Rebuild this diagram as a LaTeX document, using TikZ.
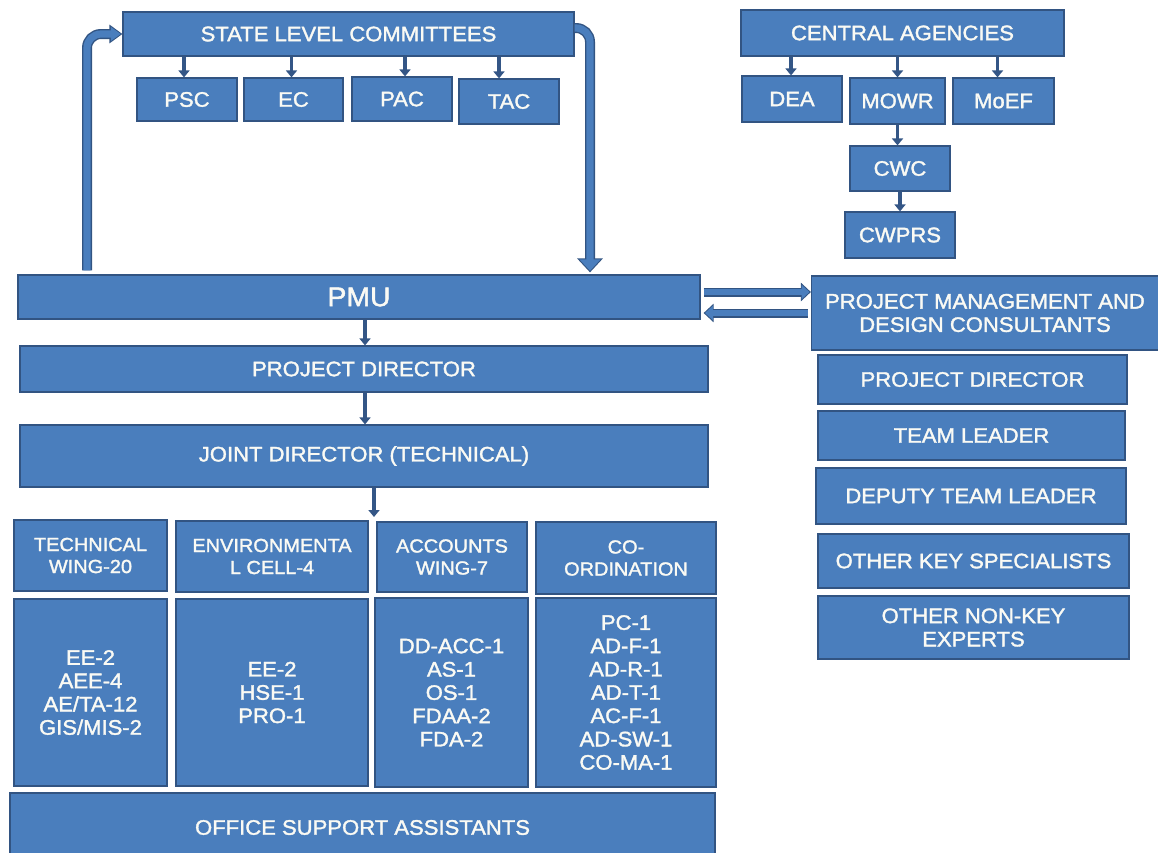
\documentclass[tikz,border=0pt]{standalone}
\usepackage{fontspec}
\setmainfont{Liberation Sans}[FakeStretch=1.05,FakeBold=1.6]
\usetikzlibrary{arrows.meta}
\definecolor{boxfill}{RGB}{74,126,189}
\definecolor{boxline}{RGB}{50,84,130}
\definecolor{arrowdark}{RGB}{52,86,134}
\definecolor{txt}{RGB}{250,250,244}
\begin{document}
\begin{tikzpicture}[x=1pt,y=-1pt,
  box/.style={draw=boxline, line width=1.2pt, fill=boxfill, text=txt, align=center,
    inner sep=0pt, font=\fontsize{21}{23.3}\selectfont},
  wing/.style={box, font=\fontsize{19}{22}\selectfont},
  sarrow/.style={draw=arrowdark, line width=3.4pt, -{Triangle[width=11pt,length=7pt]}},
  bigout/.style={draw=boxline, line width=10pt, rounded corners=14pt},
  bigin/.style={draw=boxfill, line width=7.2pt, rounded corners=14pt},
]
\useasboundingbox (0,0) rectangle (1158,852);

% state level committees
\node[box, minimum width=451, minimum height=44] (slc) at (348.5,34) {STATE LEVEL COMMITTEES};
\node[box, minimum width=100, minimum height=43] (psc) at (187,99.5) {PSC};
\node[box, minimum width=99,  minimum height=43] (ec)  at (293.5,99.5) {EC};
\node[box, minimum width=100, minimum height=44] (pac) at (402,99) {PAC};
\node[box, minimum width=100, minimum height=45] (tac) at (509,101.5) {TAC};

% central agencies
\node[box, minimum width=323, minimum height=46] (ca)   at (902.5,33) {CENTRAL AGENCIES};
\node[box, minimum width=100, minimum height=46] (dea)  at (792,99) {DEA};
\node[box, minimum width=95,  minimum height=46] (mowr) at (897.5,101) {MOWR};
\node[box, minimum width=101, minimum height=46] (moef) at (1003.5,101) {MoEF};
\node[box, minimum width=100, minimum height=45] (cwc)  at (900,168.5) {CWC};
\node[box, minimum width=110, minimum height=46] (cwprs) at (900,235) {CWPRS};

% PMU and consultants
\node[box, minimum width=682, minimum height=44, font=\fontsize{27}{30}\selectfont] (pmu)  at (359,297) {PMU};
\node[box, minimum width=347, minimum height=74] (pmdc) at (985,313) {PROJECT MANAGEMENT AND\\DESIGN CONSULTANTS};
\node[box, minimum width=309, minimum height=49] (rpd)  at (972.5,379.5) {PROJECT DIRECTOR};
\node[box, minimum width=307, minimum height=49] (tl)   at (971.5,435.5) {TEAM LEADER};
\node[box, minimum width=310, minimum height=56] (dtl)  at (971,496) {DEPUTY TEAM LEADER};
\node[box, minimum width=311, minimum height=54] (oks)  at (973.5,561) {OTHER KEY SPECIALISTS};
\node[box, minimum width=311, minimum height=63] (onk)  at (973.5,627.5) {OTHER NON-KEY\\EXPERTS};

% left hierarchy
\node[box, minimum width=688, minimum height=46] (lpd) at (364,369) {PROJECT DIRECTOR};
\node[box, minimum width=688, minimum height=62] (jd)  at (364,456) {JOINT DIRECTOR (TECHNICAL)};

\node[wing, minimum width=153, minimum height=71] (tw)  at (90.5,555.5) {TECHNICAL\\WING-20};
\node[wing, minimum width=192, minimum height=71] (env) at (272,556.5) {ENVIRONMENTA\\L CELL-4};
\node[wing, minimum width=150, minimum height=70] (aw)  at (452,557) {ACCOUNTS\\WING-7};
\node[wing, minimum width=180, minimum height=72] (co)  at (626,558) {CO-\\ORDINATION};

\node[box, minimum width=153, minimum height=187] (twc)  at (90.5,692.5) {EE-2\\AEE-4\\AE/TA-12\\GIS/MIS-2};
\node[box, minimum width=192, minimum height=187] (envc) at (272,692.5) {EE-2\\HSE-1\\PRO-1};
\node[box, minimum width=153, minimum height=189] (awc)  at (451.5,692.5) {DD-ACC-1\\AS-1\\OS-1\\FDAA-2\\FDA-2};
\node[box, minimum width=180, minimum height=189] (coc)  at (626,692.5) {PC-1\\AD-F-1\\AD-R-1\\AD-T-1\\AC-F-1\\AD-SW-1\\CO-MA-1};
\node[box, minimum width=705, minimum height=69] (osa)  at (362.5,827.5) {OFFICE SUPPORT ASSISTANTS};

% helper coordinates
\coordinate (ll) at (87,0);
\coordinate (rr) at (590,0);
\coordinate (h1) at (0,292);
\coordinate (h2) at (0,313);
\coordinate (pa) at (365,0);
\coordinate (wtop) at (374,517);

% small arrows
\draw[sarrow] ([xshift=-3pt]slc.south -| psc) -- ([xshift=-3pt]psc.north);
\draw[sarrow] ([xshift=-2pt]slc.south -| ec) -- ([xshift=-2pt]ec.north);
\draw[sarrow] ([xshift=3pt]slc.south -| pac) -- ([xshift=3pt]pac.north);
\draw[sarrow] ([xshift=-10pt]slc.south -| tac) -- ([xshift=-10pt]tac.north);
\draw[sarrow] ([xshift=-1pt]ca.south -| dea) -- ([xshift=-1pt]dea.north);
\draw[sarrow] (ca.south -| mowr) -- (mowr.north);
\draw[sarrow] ([xshift=-6pt]ca.south -| moef) -- ([xshift=-6pt]moef.north);
\draw[sarrow] (mowr.south) -- (mowr.south |- cwc.north);
\draw[sarrow] (cwc.south) -- (cwprs.north);
\draw[sarrow] (pmu.south -| pa) -- (lpd.north -| pa);
\draw[sarrow] (lpd.south -| pa) -- (jd.north -| pa);
\draw[sarrow] (jd.south -| wtop) -- (wtop);

% big arrows: PMU -> state level committees
\draw[bigout, -{Triangle[width=18pt,length=13pt]}] ([yshift=4pt]pmu.north -| ll) |- (slc.west);
\draw[bigin, -{Triangle[width=13.5pt,length=10pt]}, shorten >=1.6pt] ([yshift=4pt]pmu.north -| ll) |- (slc.west);
% state level committees -> PMU
\draw[bigout, -{Triangle[width=25pt,length=14pt]}] ([yshift=6pt]slc.east) -| ([yshift=2pt]pmu.north -| rr);
\draw[bigin, -{Triangle[width=20.5pt,length=11.5pt]}, shorten >=1.6pt] ([yshift=6pt]slc.east) -| ([yshift=2pt]pmu.north -| rr);
% PMU <-> consultants
\draw[bigout, line width=9pt, -{Triangle[width=18pt,length=10pt]}] ([xshift=3pt]pmu.east |- h1) -- (pmdc.west |- h1);
\draw[bigin, line width=6.4pt, -{Triangle[width=14pt,length=8pt]}, shorten >=1.4pt] ([xshift=3pt]pmu.east |- h1) -- (pmdc.west |- h1);
\draw[bigout, line width=9pt, -{Triangle[width=18pt,length=10pt]}] ([xshift=-3pt]pmdc.west |- h2) -- ([xshift=3pt]pmu.east |- h2);
\draw[bigin, line width=6.4pt, -{Triangle[width=14pt,length=8pt]}, shorten >=1.4pt] ([xshift=-3pt]pmdc.west |- h2) -- ([xshift=3pt]pmu.east |- h2);
\end{tikzpicture}
\end{document}
